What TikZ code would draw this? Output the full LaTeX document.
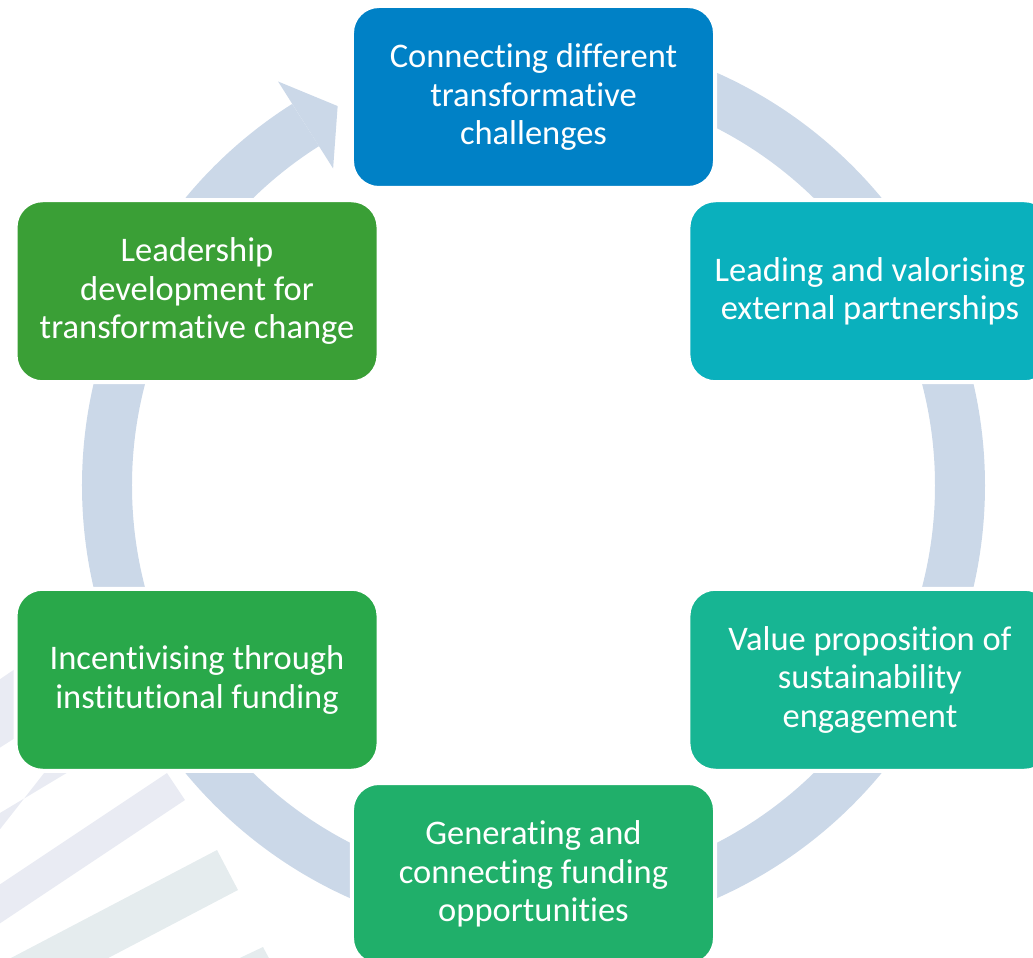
\documentclass[tikz,border=0pt]{standalone}
\usepackage{fontspec}
\setmainfont{Carlito}[Ligatures=NoCommon]
\usepackage{tikz}
\definecolor{ringblue}{RGB}{203,216,232}
\definecolor{stripegrey}{RGB}{233,235,243}
\definecolor{stripemint}{RGB}{229,236,238}
\definecolor{boxA}{RGB}{0,129,198}
\definecolor{boxB}{RGB}{10,176,189}
\definecolor{boxC}{RGB}{23,181,147}
\definecolor{boxD}{RGB}{32,175,106}
\definecolor{boxE}{RGB}{41,168,74}
\definecolor{boxF}{RGB}{58,159,54}
\tikzset{
    x=1pt, y=1pt,
    ring/.style={draw=ringblue, line width=50pt}, % the big circular arrow
}
\tikzset{stage/.style={
        rectangle, rounded corners=27pt, draw=white, line width=4pt, text=white,
        minimum width=363pt, minimum height=182pt, align=center,
        font=\fontsize{34.5}{38.5}\selectfont,
    }
}

\begin{document}
\begin{tikzpicture}
        % Frame
        \useasboundingbox (-533.5,-472.5) rectangle (499.5,485.5);
        \clip (-533.5,-472.5) rectangle (499.5,485.5);

        % Background stripes
        \begin{scope}[shift={(-533.5,485.5)}, yscale=-1]
            \fill[stripegrey] (-10,686) -- (40,652) -- (40,722) -- (-10,754) -- cycle;
            \fill[stripegrey] (-10,819) -- (100,753) -- (70,740) -- (-10,842) -- cycle;
            \fill[stripegrey] (167,773) -- (185,800) -- (-10,930) -- (-10,891) -- cycle;
            \fill[stripemint] (217,850) -- (238,890) -- (-10,1020) -- (-10,969) -- cycle;
            \fill[stripemint] (263,947) -- (278,975) -- (230,990) -- (225,965) -- cycle;
        \end{scope}

        % Ring
        \draw[ring] (90:426.5) arc[start angle=90, end angle=-237.7, radius=426.5];
        \fill[ringblue] (122.3:478) -- (117.3:427) -- (122.3:375) -- cycle;

        % Nodes
        \node[stage, fill=boxA] (S0) at (90:388.5) {Connecting different\\transformative\\challenges};
        \node[stage, fill=boxB] (S1) at (30:388.5) {Leading and valorising\\external partnerships};
        \node[stage, fill=boxC] (S2) at (-30:388.5) {Value proposition of\\sustainability\\engagement};
        \node[stage, fill=boxD] (S3) at (-90:388.5) {Generating and\\connecting funding\\opportunities};
        \node[stage, fill=boxE] (S4) at (-150:388.5) {Incentivising through\\institutional funding};
        \node[stage, fill=boxF] (S5) at (150:388.5) {Leadership\\development for\\transformative change};
    \end{tikzpicture}
\end{document}
